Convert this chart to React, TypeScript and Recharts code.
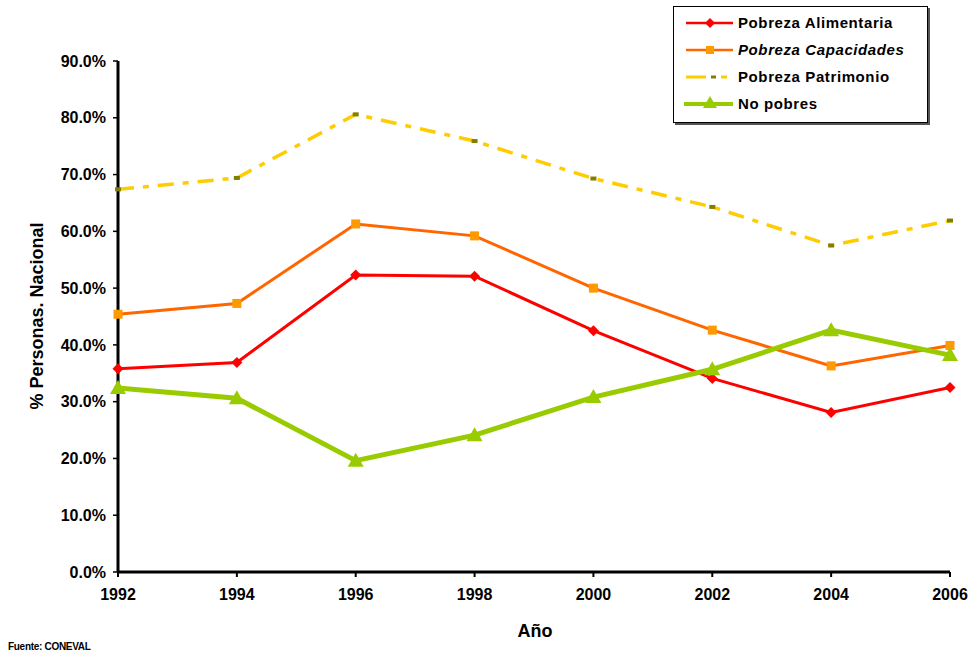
import { Line, LineChart, XAxis, YAxis } from "recharts";

const years = ["1992", "1994", "1996", "1998", "2000", "2002", "2004", "2006"];
const alimentaria = [35.8, 36.9, 52.3, 52.1, 42.5, 34.1, 28.1, 32.5];
const capacidades = [45.4, 47.3, 61.3, 59.2, 50.0, 42.6, 36.3, 39.9];
const patrimonio = [67.4, 69.4, 80.6, 75.9, 69.3, 64.3, 57.5, 61.9];
const noPobres = [32.4, 30.6, 19.6, 24.1, 30.8, 35.7, 42.6, 38.2];
const yTicks = [0, 10, 20, 30, 40, 50, 60, 70, 80, 90];

const data = years.map((year, i) => ({
  year,
  alimentaria: alimentaria[i],
  capacidades: capacidades[i],
  patrimonio: patrimonio[i],
  noPobres: noPobres[i],
}));

const FONT = "Arial, 'Liberation Sans', sans-serif";

const Diamond = (props: any) => {
  const { cx, cy, key } = props;
  if (cx == null || cy == null) return <g key={key} />;
  const s = 5.5;
  return (
    <path
      key={key}
      d={`M${cx},${cy - s} L${cx + s},${cy} L${cx},${cy + s} L${cx - s},${cy} Z`}
      fill="#ff0000"
    />
  );
};

const Square = (props: any) => {
  const { cx, cy, key } = props;
  if (cx == null || cy == null) return <g key={key} />;
  return <rect key={key} x={cx - 4.5} y={cy - 4.5} width={9} height={9} fill="#ff9900" />;
};

const Dash = (props: any) => {
  const { cx, cy, key } = props;
  if (cx == null || cy == null) return <g key={key} />;
  return <rect key={key} x={cx - 3} y={cy - 2} width={6} height={4} fill="#808000" />;
};

const Triangle = (props: any) => {
  const { cx, cy, key } = props;
  if (cx == null || cy == null) return <g key={key} />;
  return (
    <path
      key={key}
      d={`M${cx},${cy - 8} L${cx + 8},${cy + 6} L${cx - 8},${cy + 6} Z`}
      fill="#99cc00"
    />
  );
};

function LegendBox() {
  const rows = [
    { label: "Pobreza Alimentaria", italic: false },
    { label: "Pobreza Capacidades", italic: true },
    { label: "Pobreza Patrimonio", italic: false },
    { label: "No pobres", italic: false },
  ];
  return (
    <div
      style={{
        position: "absolute",
        left: 673,
        top: 6,
        width: 255,
        height: 117,
        border: "1px solid #000",
        boxShadow: "2px 2px 0 #555",
        background: "#fff",
        boxSizing: "border-box",
      }}
    >
      <svg width={60} height={117} style={{ position: "absolute", left: 0, top: 0 }}>
        <line x1={12} x2={59} y1={16} y2={16} stroke="#ff0000" strokeWidth={2.5} />
        <path d="M36,11 L41,16 L36,21 L31,16 Z" fill="#ff0000" />
        <line x1={12} x2={59} y1={43} y2={43} stroke="#ff6600" strokeWidth={2.5} />
        <rect x={32} y={39} width={8} height={8} fill="#ff9900" />
        <line x1={12} x2={32} y1={70} y2={70} stroke="#ffcc00" strokeWidth={3} />
        <rect x={37} y={68.5} width={5} height={3} fill="#808000" />
        <line x1={47} x2={53} y1={70} y2={70} stroke="#ffcc00" strokeWidth={3} />
        <line x1={10} x2={59} y1={97} y2={97} stroke="#99cc00" strokeWidth={4} />
        <path d="M36,89 L43,101 L29,101 Z" fill="#99cc00" />
      </svg>
      {rows.map((r, i) => (
        <div
          key={r.label}
          style={{
            position: "absolute",
            left: 64,
            top: 6 + i * 27,
            fontFamily: FONT,
            fontWeight: "bold",
            fontSize: 15,
            fontStyle: r.italic ? "italic" : "normal",
            letterSpacing: 0.6,
            whiteSpace: "nowrap",
            lineHeight: "20px",
          }}
        >
          {r.label}
        </div>
      ))}
    </div>
  );
}

export default function App() {
  return (
    <div style={{ position: "absolute", left: 0, top: 0, width: 977, height: 657, background: "#fff" }}>
      <LineChart
        width={977}
        height={657}
        data={data}
        margin={{ top: 61, right: 27, bottom: 55, left: 0 }}
      >
        <XAxis
          dataKey="year"
          height={30}
          axisLine={{ stroke: "#000", strokeWidth: 3 }}
          tickLine={{ stroke: "#000", strokeWidth: 2 }}
          tickSize={5}
          tickMargin={12}
          tick={{ fill: "#000", fontSize: 16, fontWeight: "bold", fontFamily: FONT }}
          interval={0}
        />
        <YAxis
          width={118}
          domain={[0, 90]}
          ticks={yTicks}
          axisLine={{ stroke: "#000", strokeWidth: 3 }}
          tickLine={{ stroke: "#000", strokeWidth: 1.5 }}
          tickSize={5}
          tickMargin={7}
          tick={{ fill: "#000", fontSize: 16, fontWeight: "bold", fontFamily: FONT }}
          tickFormatter={(v: number) => `${v.toFixed(1)}%`}
        />
        <Line
          type="linear"
          dataKey="patrimonio"
          name="Pobreza Patrimonio"
          stroke="#ffcc00"
          strokeWidth={3.5}
          strokeDasharray="16 9 6 9"
          dot={Dash}
          activeDot={false}
          isAnimationActive={false}
        />
        <Line
          type="linear"
          dataKey="capacidades"
          name="Pobreza Capacidades"
          stroke="#ff6600"
          strokeWidth={3}
          dot={Square}
          activeDot={false}
          isAnimationActive={false}
        />
        <Line
          type="linear"
          dataKey="alimentaria"
          name="Pobreza Alimentaria"
          stroke="#ff0000"
          strokeWidth={3}
          dot={Diamond}
          activeDot={false}
          isAnimationActive={false}
        />
        <Line
          type="linear"
          dataKey="noPobres"
          name="No pobres"
          stroke="#99cc00"
          strokeWidth={5}
          dot={Triangle}
          activeDot={false}
          isAnimationActive={false}
        />
      </LineChart>
      <LegendBox />
      <div
        style={{
          position: "absolute",
          left: 37,
          top: 316,
          transform: "translate(-50%, -50%) rotate(-90deg)",
          fontFamily: FONT,
          fontWeight: "bold",
          fontSize: 18,
          whiteSpace: "nowrap",
        }}
      >
        % Personas. Nacional
      </div>
      <div
        style={{
          position: "absolute",
          left: 535,
          top: 631,
          transform: "translate(-50%, -50%)",
          fontFamily: FONT,
          fontWeight: "bold",
          fontSize: 18,
        }}
      >
        Año
      </div>
      <div
        style={{
          position: "absolute",
          left: 8,
          top: 641,
          fontFamily: FONT,
          fontWeight: "bold",
          fontSize: 10,
          letterSpacing: -0.3,
          whiteSpace: "nowrap",
        }}
      >
        Fuente: CONEVAL
      </div>
    </div>
  );
}
